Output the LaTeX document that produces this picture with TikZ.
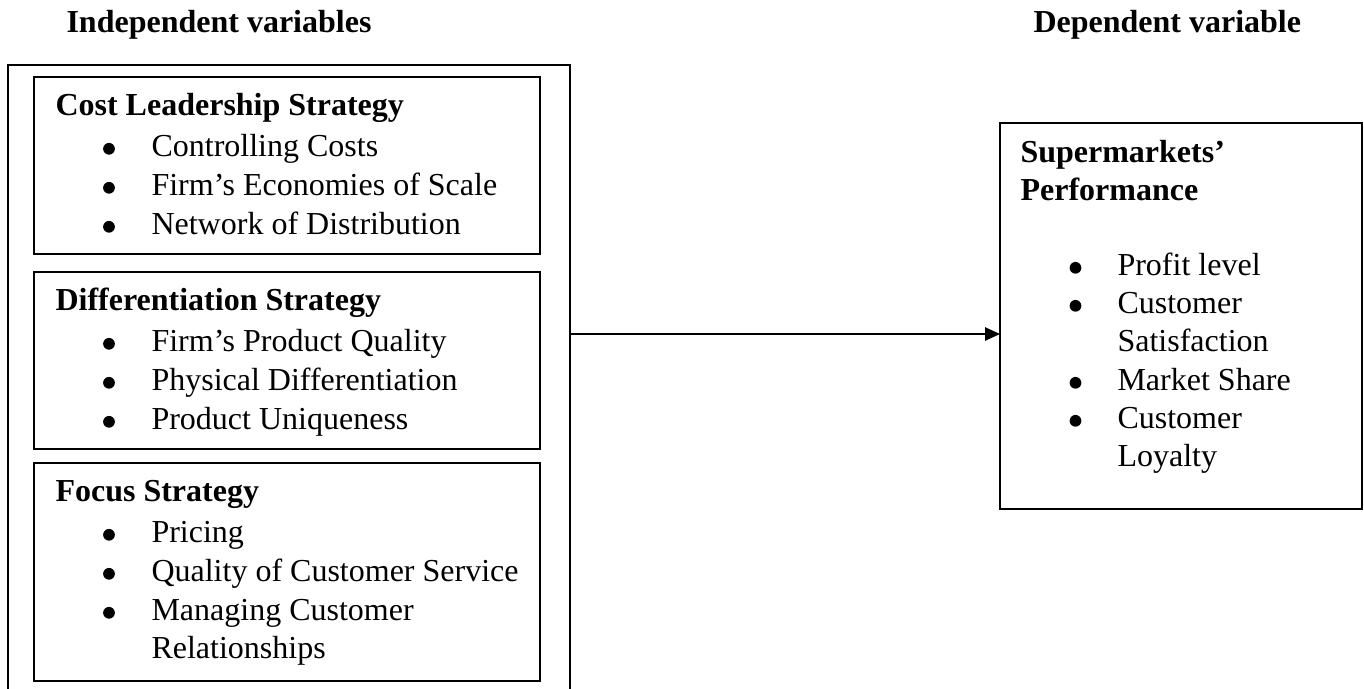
\documentclass[tikz,border=0pt]{standalone}
\usepackage{fontspec}
\setmainfont{Liberation Serif}
\usetikzlibrary{arrows.meta}

\tikzset{
	box/.style={line width=0.75pt},
	txt/.style={anchor=base west,inner sep=0pt,font=\fontsize{12pt}{14.4pt}\selectfont},
	hd/.style={txt,font=\fontsize{12pt}{14.4pt}\selectfont\bfseries},
	dot/.style={circle,fill,inner sep=0pt,minimum size=4.4pt,yshift=2.7pt},
	arr/.style={line width=0.5pt,-{Triangle[length=5.6pt,width=5pt]}}
}

\begin{document}
\begin{tikzpicture}[x=37.5pt,y=37.5pt]
		\useasboundingbox (0,0) rectangle (13.64,-6.89);
		
		% column titles
		\node[hd] (indep) at (0.66,-0.32) {Independent variables};
		\node[hd] (dep) at (10.33,-0.32) {Dependent variable};
		
		% outer frame, runs off the bottom
		\draw[box] (0.08,-6.89) -- (0.08,-0.65) -- (5.70,-0.65) -- (5.70,-6.89);
		
		% cost leadership
		\draw[box] (0.34,-0.77) rectangle (5.40,-2.54);
		\node[hd] (cost) at (0.55,-1.155) {Cost Leadership Strategy};
		\node[dot] (cost-b1) at (1.09,-1.56) {};
		\node[txt] (cost-1) at (1.51,-1.56) {Controlling Costs};
		\node[dot] (cost-b2) at (1.09,-1.95) {};
		\node[txt] (cost-2) at (1.51,-1.95) {Firm’s Economies of Scale};
		\node[dot] (cost-b3) at (1.09,-2.34) {};
		\node[txt] (cost-3) at (1.51,-2.34) {Network of Distribution};
		
		% differentiation
		\draw[box] (0.34,-2.72) rectangle (5.40,-4.49);
		\node[hd] (diff) at (0.55,-3.105) {Differentiation Strategy};
		\node[dot] (diff-b1) at (1.09,-3.51) {};
		\node[txt] (diff-1) at (1.51,-3.51) {Firm’s Product Quality};
		\node[dot] (diff-b2) at (1.09,-3.90) {};
		\node[txt] (diff-2) at (1.51,-3.90) {Physical Differentiation};
		\node[dot] (diff-b3) at (1.09,-4.29) {};
		\node[txt] (diff-3) at (1.51,-4.29) {Product Uniqueness};
		
		% focus
		\draw[box] (0.34,-4.63) rectangle (5.40,-6.81);
		\node[hd] (focus) at (0.55,-5.015) {Focus Strategy};
		\node[dot] (focus-b1) at (1.09,-5.42) {};
		\node[txt] (focus-1) at (1.51,-5.42) {Pricing};
		\node[dot] (focus-b2) at (1.09,-5.81) {};
		\node[txt] (focus-2) at (1.51,-5.81) {Quality of Customer Service};
		\node[dot] (focus-b3) at (1.09,-6.20) {};
		\node[txt] (focus-3) at (1.51,-6.20) {Managing Customer};
		\node[txt] (focus-3b) at (1.51,-6.58) {Relationships};
		
		% performance
		\draw[box] (10.00,-1.23) coordinate (perf-nw) rectangle (13.62,-5.09);
		\node[hd] (perf) at (10.20,-1.625) {Supermarkets’};
		\node[hd] (perf-b) at (10.20,-2.00) {Performance};
		\node[dot] (perf-b1) at (10.755,-2.75) {};
		\node[txt] (perf-1) at (11.17,-2.75) {Profit level};
		\node[dot] (perf-b2) at (10.755,-3.13) {};
		\node[txt] (perf-2) at (11.17,-3.13) {Customer};
		\node[txt] (perf-2b) at (11.17,-3.515) {Satisfaction};
		\node[dot] (perf-b3) at (10.755,-3.90) {};
		\node[txt] (perf-3) at (11.17,-3.90) {Market Share};
		\node[dot] (perf-b4) at (10.755,-4.28) {};
		\node[txt] (perf-4) at (11.17,-4.28) {Customer};
		\node[txt] (perf-4b) at (11.17,-4.66) {Loyalty};
		
		\coordinate (src) at (5.70,-3.34);
		\draw[arr] (src) -- (src -| perf-nw);
\end{tikzpicture}
\end{document}
